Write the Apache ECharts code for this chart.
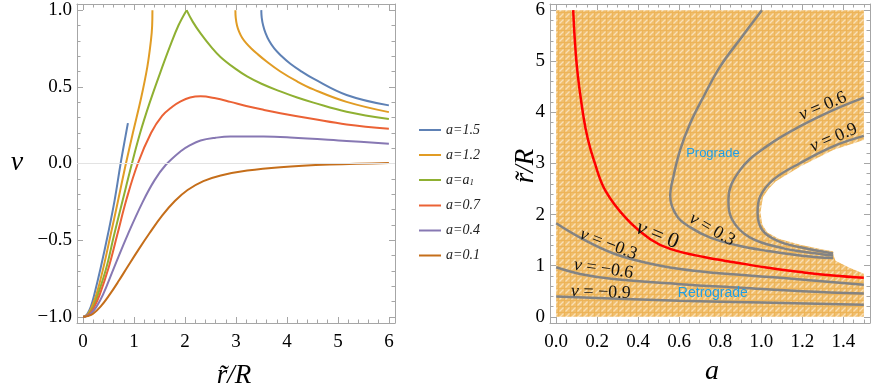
<!DOCTYPE html>
<html>
<head>
<meta charset="utf-8">
<script src="https://cdn.jsdelivr.net/npm/echarts@6.0.0/dist/echarts.min.js"></script>
<style>
html, body { margin: 0; padding: 0; background: #fff; }
#main { width: 872px; height: 391px; }
</style>
</head>
<body>
<div id="main"></div>
<script>
// ===== 左图: nu 随 r/R 的变化 =====
var leftXTicks = [0, 1, 2, 3, 4, 5, 6];
var leftYTicks = [-1, -0.5, 0, 0.5, 1];
var legendNames = ['a=1.5', 'a=1.2', 'a=a1', 'a=0.7', 'a=0.4', 'a=0.1'];
var curveColors = ['#5E81B5', '#E19C24', '#8FB032', '#EB6235', '#8778B3', '#C56E1A'];

// [r/R, nu]
var blueIn = [[0,-1],[0.04,-0.995],[0.085,-0.98],[0.15,-0.935],[0.215,-0.86],[0.345,-0.68],[0.488,-0.46],[0.618,-0.24],[0.736,0.0],[0.833,0.18],[0.879,0.263]];
var blueOut = [[3.496,1.0],[3.505,0.95],[3.533,0.9],[3.58,0.85],[3.65,0.80],[3.75,0.75],[3.87,0.708],[4.06,0.652],[4.3,0.597],[4.52,0.553],[5.17,0.447],[6.0,0.379]];
var orangeIn = [[0,-1],[0.045,-0.995],[0.098,-0.98],[0.17,-0.935],[0.26,-0.855],[0.39,-0.69],[0.54,-0.465],[0.684,-0.245],[0.827,-0.02],[0.977,0.2],[1.14,0.43],[1.26,0.63],[1.33,0.8],[1.355,0.9],[1.36,1.0]];
var orangeOut = [[2.988,1.0],[2.995,0.95],[3.02,0.9],[3.06,0.86],[3.12,0.82],[3.2,0.785],[3.3,0.75],[3.41,0.717],[3.6,0.665],[3.87,0.6],[4.2,0.535],[4.52,0.483],[5.17,0.402],[6.0,0.335]];
var greenIn = [[0,-1],[0.05,-0.995],[0.111,-0.98],[0.2,-0.935],[0.293,-0.852],[0.456,-0.68],[0.605,-0.47],[0.78,-0.235],[0.95,-0.01],[1.12,0.2],[1.3,0.39],[1.5,0.58],[1.7,0.76],[1.87,0.9],[2.031,1.0]];
var greenOut = [[2.031,1.0],[2.15,0.925],[2.305,0.848],[2.5,0.765],[2.695,0.695],[3.0,0.615],[3.217,0.568],[3.5,0.52],[3.87,0.47],[4.2,0.43],[4.52,0.397],[5.17,0.338],[6.0,0.29]];
var redCurve = [[0,-1],[0.055,-0.995],[0.13,-0.98],[0.22,-0.935],[0.326,-0.855],[0.5,-0.68],[0.67,-0.465],[0.85,-0.235],[1.074,0.0],[1.335,0.2],[1.55,0.31],[1.75,0.37],[1.914,0.405],[2.1,0.43],[2.305,0.438],[2.6,0.425],[2.89,0.402],[3.2,0.375],[3.54,0.35],[3.87,0.328],[4.52,0.29],[5.17,0.255],[6.0,0.227]];
var purpleCurve = [[0,-1],[0.065,-0.995],[0.15,-0.98],[0.26,-0.935],[0.39,-0.855],[0.605,-0.68],[0.88,-0.46],[1.17,-0.25],[1.4,-0.11],[1.62,-0.01],[1.914,0.08],[2.1,0.12],[2.305,0.15],[2.6,0.168],[2.89,0.176],[3.54,0.176],[4.06,0.17],[5.17,0.147],[6.0,0.129]];
var brownCurve = [[0,-1],[0.09,-0.995],[0.195,-0.98],[0.35,-0.93],[0.52,-0.855],[0.7,-0.765],[0.879,-0.67],[1.1,-0.555],[1.302,-0.455],[1.55,-0.34],[1.8,-0.245],[2.05,-0.173],[2.36,-0.115],[2.7,-0.078],[3.22,-0.046],[3.87,-0.024],[4.84,-0.007],[6.0,0.004]];

// ===== 右图: a - r/R 平面的等值线 =====
var rightXTicks = [0, 0.2, 0.4, 0.6, 0.8, 1.0, 1.2, 1.4];
var rightYTicks = [0, 1, 2, 3, 4, 5, 6];

// [a, r/R]
var nu0 = [[0.083,6],[0.101,4.9],[0.133,3.92],[0.155,3.47],[0.185,3.05],[0.24,2.47],[0.345,1.91],[0.459,1.52],[0.556,1.33],[0.72,1.17],[0.881,1.06],[1.05,0.95],[1.206,0.87],[1.35,0.81],[1.5,0.765]];
var nuM3 = [[0,1.83],[0.117,1.55],[0.28,1.24],[0.45,1.05],[0.605,0.935],[0.75,0.87],[1.109,0.76],[1.5,0.63]];
var nuM6 = [[0,0.97],[0.117,0.84],[0.28,0.74],[0.605,0.64],[0.9,0.57],[1.2,0.5],[1.5,0.455]];
var nuM9 = [[0,0.40],[0.3,0.355],[0.6,0.315],[1.0,0.28],[1.5,0.235]];
var nu3 = [[1.003,6],[0.906,5.48],[0.80,4.90],[0.719,4.31],[0.654,3.79],[0.605,3.27],[0.572,2.75],[0.556,2.36],[0.589,1.97],[0.654,1.75],[0.751,1.55],[0.881,1.40],[1.03,1.29],[1.206,1.19],[1.35,1.15]];
var nu6 = [[1.5,4.29],[1.353,4.05],[1.19,3.73],[1.028,3.34],[0.898,2.88],[0.84,2.30],[0.857,1.91],[0.946,1.55],[1.109,1.34],[1.25,1.25],[1.35,1.20]];
var nu9 = [[1.5,3.54],[1.353,3.34],[1.19,3.01],[1.06,2.69],[0.995,2.36],[0.982,2.04],[1.003,1.71],[1.077,1.49],[1.19,1.36],[1.35,1.24]];

// 白色区域的边界 (从下到上)
var holeEdge = [[1.5,0.845],[1.43,0.96],[1.362,1.10],[1.353,1.19],[1.35,1.285],[1.30,1.32],[1.19,1.41],[1.085,1.53],[1.03,1.65],[1.005,1.8],[0.996,2.04],[1.008,2.34],[1.035,2.5],[1.07,2.65],[1.19,2.94],[1.353,3.27],[1.5,3.46]];
var domainA = [0, 1.5];
var domainR = [0, 6];

// 等值线标注
var labelA = [0.494, 0.255, 0.231, 0.218, 0.76, 1.30, 1.353];
var labelR = [1.60, 1.42, 0.935, 0.48, 1.71, 4.12, 3.50];
var labelVal = ['0', '\u22120.3', '\u22120.6', '\u22120.9', '0.3', '0.6', '0.9'];
var labelAngle = [-22, -21, -8, -2, -30, 23, 23];
var labelSize = [22, 18, 18, 18, 18, 18, 18];

var regionNames = ['Prograde', 'Retrograde'];
var regionA = [0.764, 0.764];
var regionR = [3.19, 0.46];

var FRAME = '#a6a6a6';
var SERIF = 'Liberation Serif';

function minorList(min, max, step, majors) {
    var out = [];
    for (var v = min; v <= max + 1e-9; v += step) {
        var r = Math.round(v * 1000) / 1000;
        if (majors.indexOf(r) < 0) out.push(r);
    }
    return out;
}

function fmt1(v) { return v.toFixed(1).replace('-', '\u2212'); }
function fmt0(v) { return String(v); }

function tickAxis(grid, pos, min, max, values, len, labelFmt, margin) {
    return {
        type: 'value', gridIndex: grid, position: pos, min: min, max: max,
        splitLine: { show: false },
        axisLine: { show: len > 4, onZero: false, lineStyle: { color: FRAME, width: 1 } },
        axisTick: { show: true, inside: true, length: len, customValues: values, lineStyle: { color: FRAME, width: 1 } },
        axisLabel: {
            show: !!labelFmt, customValues: values, formatter: labelFmt, margin: margin || 8,
            fontFamily: SERIF, fontSize: 19, color: '#000'
        }
    };
}

var LXmin = -0.12, LXmax = 6.12, LYmin = -1.04, LYmax = 1.04;
var RXmin = -0.03, RXmax = 1.53, RYmin = -0.12, RYmax = 6.12;

var xAxes = [
    tickAxis(0, 'bottom', LXmin, LXmax, leftXTicks, 6, fmt0, 10),
    tickAxis(0, 'bottom', LXmin, LXmax, minorList(0, 6, 0.2, leftXTicks), 3.5),
    tickAxis(0, 'top', LXmin, LXmax, leftXTicks, 6),
    tickAxis(0, 'top', LXmin, LXmax, minorList(0, 6, 0.2, leftXTicks), 3.5),
    tickAxis(1, 'bottom', RXmin, RXmax, rightXTicks, 6, fmt1, 10),
    tickAxis(1, 'bottom', RXmin, RXmax, minorList(0, 1.5, 0.05, rightXTicks), 3.5),
    tickAxis(1, 'top', RXmin, RXmax, rightXTicks, 6),
    tickAxis(1, 'top', RXmin, RXmax, minorList(0, 1.5, 0.05, rightXTicks), 3.5)
];
var yAxes = [
    tickAxis(0, 'left', LYmin, LYmax, leftYTicks, 6, fmt1, 5),
    tickAxis(0, 'left', LYmin, LYmax, minorList(-1, 1, 0.1, leftYTicks), 3.5),
    tickAxis(0, 'right', LYmin, LYmax, leftYTicks, 6),
    tickAxis(0, 'right', LYmin, LYmax, minorList(-1, 1, 0.1, leftYTicks), 3.5),
    tickAxis(1, 'left', RYmin, RYmax, rightYTicks, 6, fmt0, 5),
    tickAxis(1, 'left', RYmin, RYmax, minorList(0, 6, 0.2, rightYTicks), 3.5),
    tickAxis(1, 'right', RYmin, RYmax, rightYTicks, 6),
    tickAxis(1, 'right', RYmin, RYmax, minorList(0, 6, 0.2, rightYTicks), 3.5)
];

// 填充图案 (橙色网纹)
var pat = document.createElement('canvas');
pat.width = 6; pat.height = 6;
var pctx = pat.getContext('2d');
pctx.fillStyle = '#F0BE6C';
pctx.fillRect(0, 0, 6, 6);
pctx.fillStyle = '#EDB459';
pctx.fillRect(0, 0, 6, 1);
pctx.fillRect(0, 0, 1, 6);
pctx.strokeStyle = '#F9E0B6';
pctx.lineWidth = 1.2;
pctx.beginPath();
pctx.moveTo(1.5, 5.5); pctx.lineTo(5.5, 1.5);
pctx.stroke();

function leftLine(name, data, color) {
    return {
        type: 'line', name: name, xAxisIndex: 0, yAxisIndex: 0, data: data,
        showSymbol: false, symbol: 'none', smooth: 0.4, z: 3,
        lineStyle: { color: color, width: 2 }, itemStyle: { color: color }
    };
}

function contour(name, data, color) {
    return {
        type: 'line', name: name, xAxisIndex: 4, yAxisIndex: 4, data: data,
        showSymbol: false, symbol: 'none', smooth: 0.4, z: 3,
        lineStyle: { color: color, width: 2.5 }, itemStyle: { color: color }
    };
}

var regionPts = [[domainA[0], domainR[0]], [domainA[1], domainR[0]]]
    .concat(holeEdge)
    .concat([[domainA[1], domainR[1]], [domainA[0], domainR[1]]]);

var series = [];
var first = leftLine(legendNames[0], blueIn, curveColors[0]);
first.markLine = {
    silent: true, symbol: 'none', label: { show: false },
    lineStyle: { color: '#e3e3e3', width: 1, type: 'solid' },
    data: [{ yAxis: 0 }]
};
series.push(first);
series.push(leftLine(legendNames[0], blueOut, curveColors[0]));
series.push(leftLine(legendNames[1], orangeIn, curveColors[1]));
series.push(leftLine(legendNames[1], orangeOut, curveColors[1]));
series.push(leftLine(legendNames[2], greenIn, curveColors[2]));
series.push(leftLine(legendNames[2], greenOut, curveColors[2]));
series.push(leftLine(legendNames[3], redCurve, curveColors[3]));
series.push(leftLine(legendNames[4], purpleCurve, curveColors[4]));
series.push(leftLine(legendNames[5], brownCurve, curveColors[5]));

series.push({
    type: 'custom', name: 'region', xAxisIndex: 4, yAxisIndex: 4, z: 1, silent: true,
    data: [[0, 0]],
    renderItem: function (params, api) {
        var pts = regionPts.map(function (p) { return api.coord(p); });
        return { type: 'polygon', shape: { points: pts }, style: { fill: { image: pat, repeat: 'repeat' } } };
    }
});

var GRAY = '#838383';
series.push(contour('nu-0.9', nuM9, GRAY));
series.push(contour('nu-0.6', nuM6, GRAY));
series.push(contour('nu-0.3', nuM3, GRAY));
series.push(contour('nu0.3', nu3, GRAY));
series.push(contour('nu0.6', nu6, GRAY));
series.push(contour('nu0.9', nu9, GRAY));
series.push(contour('nu0', nu0, '#FF0000'));

series.push({
    type: 'custom', name: 'labels', xAxisIndex: 4, yAxisIndex: 4, z: 5, silent: true,
    data: labelA.map(function (a, i) { return [a, labelR[i]]; }),
    renderItem: function (params, api) {
        var i = params.dataIndex;
        var p = api.coord([labelA[i], labelR[i]]);
        return {
            type: 'text', x: p[0], y: p[1], rotation: labelAngle[i] * Math.PI / 180,
            style: {
                text: '{n|\u03bd} = ' + labelVal[i],
                fontFamily: SERIF, fontSize: labelSize[i], fill: '#111',
                align: 'center', verticalAlign: 'middle',
                rich: { n: { fontStyle: 'italic', fontFamily: SERIF, fontSize: labelSize[i], fill: '#111' } }
            }
        };
    }
});

series.push({
    type: 'custom', name: 'regionNames', xAxisIndex: 4, yAxisIndex: 4, z: 5, silent: true,
    data: regionA.map(function (a, i) { return [a, regionR[i]]; }),
    renderItem: function (params, api) {
        var i = params.dataIndex;
        var p = api.coord([regionA[i], regionR[i]]);
        return {
            type: 'text', x: p[0], y: p[1],
            style: {
                text: regionNames[i], fontFamily: 'Liberation Sans', fontSize: i === 0 ? 13 : 14,
                fill: '#1f9ee6', align: 'center', verticalAlign: 'middle'
            }
        };
    }
});

var option = {
    animation: false,
    backgroundColor: '#fff',
    grid: [
        { left: 77, top: 4, width: 318, height: 319 },
        { left: 550, top: 4, width: 320, height: 319 }
    ],
    xAxis: xAxes,
    yAxis: yAxes,
    legend: {
        data: legendNames, orient: 'vertical', left: 414, top: 118,
        itemWidth: 22, itemHeight: 2, icon: 'rect', itemGap: 11,
        selectedMode: false,
        textStyle: {
            fontFamily: SERIF, fontStyle: 'italic', fontSize: 14, color: '#222',
            rich: {
                t: { fontFamily: SERIF, fontStyle: 'italic', fontSize: 14, color: '#222' },
                s: { fontFamily: SERIF, fontStyle: 'italic', fontSize: 9, color: '#222', verticalAlign: 'bottom', padding: [6, 0, 0, 0] }
            }
        },
        formatter: function (name) {
            if (name === 'a=a1') return '{t|a=a}{s|1}';
            return '{t|' + name + '}';
        }
    },
    graphic: [
        { type: 'text', x: 17, y: 163, style: { text: '\u03bd', fontFamily: SERIF, fontStyle: 'italic', fontSize: 28, fill: '#000', align: 'center', verticalAlign: 'middle' } },
        { type: 'text', x: 234, y: 376, style: { text: 'r\u0303/R', fontFamily: SERIF, fontStyle: 'italic', fontSize: 27, fill: '#000', align: 'center', verticalAlign: 'middle' } },
        { type: 'text', x: 526, y: 166, rotation: Math.PI / 2, style: { text: 'r\u0303/R', fontFamily: SERIF, fontStyle: 'italic', fontSize: 27, fill: '#000', align: 'center', verticalAlign: 'middle' } },
        { type: 'text', x: 712, y: 372, style: { text: 'a', fontFamily: SERIF, fontStyle: 'italic', fontSize: 28, fill: '#000', align: 'center', verticalAlign: 'middle' } }
    ],
    series: series
};

var myChart = echarts.init(document.getElementById('main'), null, { renderer: 'canvas' });
myChart.setOption(option);
</script>
</body>
</html>
